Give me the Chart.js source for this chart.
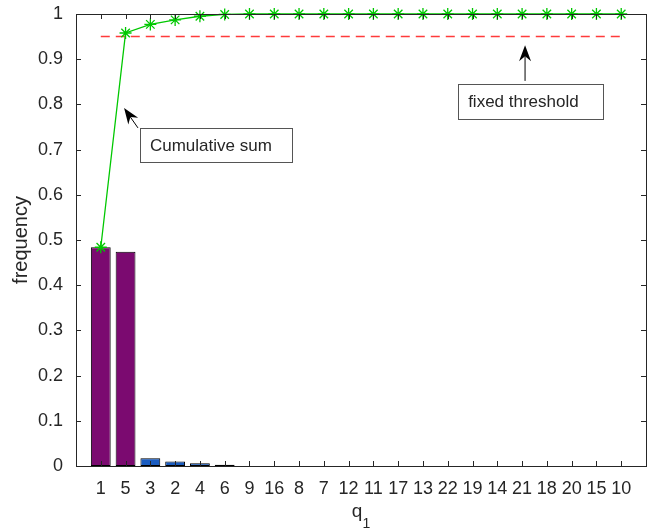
<!DOCTYPE html>
<html>
<head>
<meta charset="utf-8">
<script src="https://cdn.jsdelivr.net/npm/chart.js@4/dist/chart.umd.min.js"></script>
<style>
html,body{margin:0;padding:0;background:#fff;}
#wrap{width:666px;height:529px;}
</style>
</head>
<body>
<div id="wrap"><canvas id="c" width="666" height="529"></canvas></div>
<script>
// ---- data ----
const categories = ['1','5','3','2','4','6','9','16','8','7','12','11','17','13','22','19','14','21','18','20','15','10'];
const frequency  = [0.484,0.474,0.017,0.010,0.006,0.003,0,0,0,0,0,0,0,0,0,0,0,0,0,0,0,0];
const cumulative = [0.484,0.958,0.977,0.987,0.995,0.999,1,1,1,1,1,1,1,1,1,1,1,1,1,1,1,1];
const thresholdValue = 0.95;
const yTicks = [0,0.1,0.2,0.3,0.4,0.5,0.6,0.7,0.8,0.9,1];
const xTitleMain = 'q';
const xTitleSub = '1';

// styles
const purple = '#7b0a70';
const blue = '#1a5cc0';
const barColors = categories.map((c,i)=> i<2 ? purple : blue);

// annotations in data coordinates (x = category position, y = value)
const annotations = [
  {text:'Cumulative sum', box:[2.58,0.748,8.72,0.673], tip:[1.94,0.792], tail:[2.50,0.748]},
  {text:'fixed threshold', box:[15.42,0.845,21.27,0.768], tip:[18.12,0.931], tail:[18.12,0.852]}
];

const FONT = '"Liberation Sans", Arial, sans-serif';
const TXT = '#262626';

const barData = frequency.map((v,i)=>({x:i+1,y:v}));
const cumData = cumulative.map((v,i)=>({x:i+1,y:v}));
const thrData = [{x:1,y:thresholdValue},{x:categories.length,y:thresholdValue}];

function drawArrow(ctx, x0,y0,x1,y1){
  const ang = Math.atan2(y1-y0,x1-x0);
  const L = 16, W = 6, back = 11;
  ctx.save();
  ctx.strokeStyle='#000'; ctx.fillStyle='#000'; ctx.lineWidth=1;
  ctx.beginPath();
  const bx = x1 - Math.cos(ang)*back, by = y1 - Math.sin(ang)*back;
  ctx.moveTo(x0,y0); ctx.lineTo(bx,by); ctx.stroke();
  ctx.translate(x1,y1); ctx.rotate(ang);
  ctx.beginPath();
  ctx.moveTo(0,0);
  ctx.lineTo(-L,-W);
  ctx.lineTo(-back,0);
  ctx.lineTo(-L,W);
  ctx.closePath();
  ctx.fill();
  ctx.restore();
}

const matlabAxes = {
  id:'matlabAxes',
  afterDatasetsDraw(chart){
    const {ctx, chartArea:a, scales:{x,y}} = chart;
    ctx.save();
    ctx.strokeStyle = TXT; ctx.lineWidth = 1;
    ctx.beginPath();
    for(let i=1;i<=categories.length;i++){
      const px = Math.round(x.getPixelForValue(i))+0.5;
      ctx.moveTo(px,a.bottom); ctx.lineTo(px,a.bottom-5);
      ctx.moveTo(px,a.top); ctx.lineTo(px,a.top+5);
    }
    yTicks.forEach(v=>{
      const py = Math.round(y.getPixelForValue(v))+0.5;
      ctx.moveTo(a.left,py); ctx.lineTo(a.left+5,py);
      ctx.moveTo(a.right,py); ctx.lineTo(a.right-5,py);
    });
    ctx.stroke();
    ctx.strokeRect(Math.round(a.left)+0.5, Math.round(a.top)+0.5, Math.round(a.right-a.left), Math.round(a.bottom-a.top));
    ctx.restore();
  },
  afterDraw(chart){
    const {ctx, chartArea:a, scales:{x,y}} = chart;
    ctx.save();
    annotations.forEach(an=>{
      const l = x.getPixelForValue(an.box[0]), t = y.getPixelForValue(an.box[1]);
      const r = x.getPixelForValue(an.box[2]), b = y.getPixelForValue(an.box[3]);
      ctx.fillStyle='#fff'; ctx.fillRect(l,t,r-l,b-t);
      ctx.strokeStyle='#555'; ctx.lineWidth=1;
      ctx.strokeRect(Math.round(l)+0.5,Math.round(t)+0.5,Math.round(r-l),Math.round(b-t));
      ctx.fillStyle=TXT; ctx.font='17px '+FONT; ctx.textBaseline='middle'; ctx.textAlign='left';
      ctx.fillText(an.text, l+10, (t+b)/2+1);
      drawArrow(ctx, x.getPixelForValue(an.tail[0]), y.getPixelForValue(an.tail[1]),
                     x.getPixelForValue(an.tip[0]), y.getPixelForValue(an.tip[1]));
    });
    // x axis title with subscript
    ctx.fillStyle = TXT; ctx.textBaseline='alphabetic'; ctx.textAlign='left';
    ctx.font = '19px '+FONT;
    const wq = ctx.measureText(xTitleMain).width;
    ctx.font = '14px '+FONT;
    const ws = ctx.measureText(xTitleSub).width;
    const cx = (a.left+a.right)/2;
    const x0 = cx - (wq+ws)/2;
    ctx.font = '19px '+FONT;
    ctx.fillText(xTitleMain, x0, a.bottom+51);
    ctx.font = '14px '+FONT;
    ctx.fillText(xTitleSub, x0+wq, a.bottom+62);
    ctx.restore();
  }
};

new Chart(document.getElementById('c'), {
  type:'bar',
  data:{
    datasets:[
      {type:'line', label:'fixed threshold', data:thrData, borderColor:'#ff3b3b', borderWidth:1.5,
       borderDash:[9,6], pointRadius:0, fill:false, order:1},
      {type:'line', label:'Cumulative sum', data:cumData, borderColor:'#00c800', borderWidth:1.3,
       pointStyle:'star', pointRadius:6, pointBorderColor:'#00c800', pointBorderWidth:1.3,
       pointBackgroundColor:'rgba(0,0,0,0)', fill:false, tension:0, order:0, clip:false},
      {type:'bar', label:'frequency', data:barData, backgroundColor:barColors, borderColor:'#000',
       borderWidth:1, borderSkipped:false, barPercentage:0.8, categoryPercentage:1, order:2}
    ]
  },
  options:{
    responsive:false, animation:false,
    layout:{padding:{top:14,right:20,left:0,bottom:0}},
    plugins:{legend:{display:false}, tooltip:{enabled:false}},
    scales:{
      x:{type:'linear', min:0, max:categories.length+1, offset:false,
        grid:{display:false, drawTicks:false}, border:{display:false},
        afterFit(s){ s.height = 63; s.paddingLeft = 0; s.paddingRight = 0; },
        afterBuildTicks(s){ s.ticks = categories.map((c,i)=>({value:i+1})); },
        ticks:{autoSkip:false, maxRotation:0, padding:12, color:TXT, font:{family:FONT,size:18},
          callback:(v)=> categories[v-1] ?? ''},
        title:{display:false, text:xTitleMain+xTitleSub}
      },
      y:{min:0, max:1,
        grid:{display:false, drawTicks:false}, border:{display:false},
        afterFit(s){ s.width = 76; s.paddingTop = 0; s.paddingBottom = 0; },
        afterBuildTicks(s){ s.ticks = yTicks.map(v=>({value:v})); },
        ticks:{padding:13, color:TXT, font:{family:FONT,size:18}, callback:(v)=> String(v)},
        title:{display:true, text:'frequency', color:TXT, font:{family:FONT,size:20}, padding:{top:9,bottom:0}}
      }
    }
  },
  plugins:[matlabAxes]
});
</script>
</body>
</html>
